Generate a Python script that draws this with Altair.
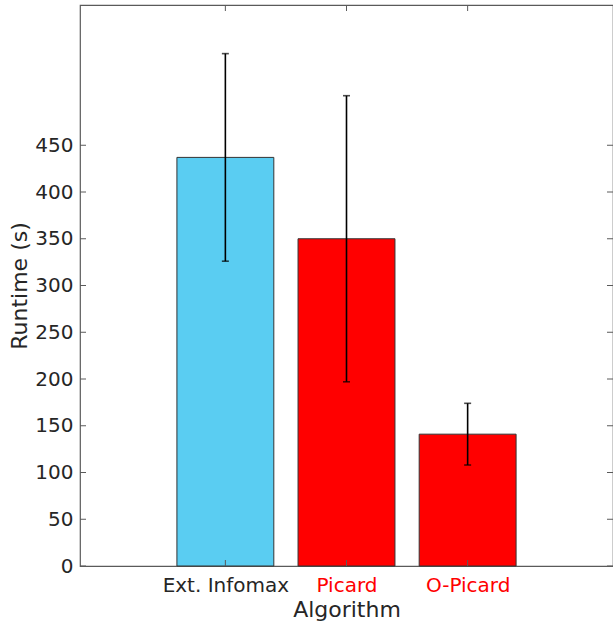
import json

import altair as alt
import pandas as pd

# Mean runtime per algorithm with its error-bar half width (seconds)
algorithms = ["Ext. Infomax", "Picard", "O-Picard"]
runtime_mean = [437, 350, 141]
runtime_err = [111, 153, 33]
bar_colors = ["#5ACDF2", "#FF0000", "#FF0000"]
label_colors = ["#262626", "#FF0000", "#FF0000"]
y_ticks = [0, 50, 100, 150, 200, 250, 300, 350, 400, 450]

W, H = 533, 561
FONT = "DejaVu Sans"
TEXT = "#262626"
FRAME = "#5a5a5a"

df = pd.DataFrame({
    "algorithm": algorithms,
    "pos": list(range(1, len(algorithms) + 1)),
    "mean": runtime_mean,
    "err": runtime_err,
    "color": bar_colors,
})
ticks_df = pd.DataFrame({"v": y_ticks})

xs = alt.Scale(domain=[-0.2, 4.2], nice=False, zero=False)
ys = alt.Scale(domain=[0, 600], nice=False)

x_axis = alt.Axis(
    values=df["pos"].tolist(),
    labelExpr=json.dumps(algorithms) + "[datum.value - 1]",
    labelColor={
        "condition": {"test": "datum.value == 1", "value": label_colors[0]},
        "value": label_colors[1],
    },
    ticks=False, domain=False, grid=False,
    labelFont=FONT, labelFontSize=20, labelPadding=9,
    labelOverlap=False, labelFlush=False,
    title="Algorithm", titleFont=FONT, titleFontSize=22,
    titleFontWeight="normal", titleColor=TEXT,
    titleY=50, titleBaseline="alphabetic",
)
y_axis = alt.Axis(
    values=y_ticks,
    ticks=False, domain=False, grid=False,
    labelFont=FONT, labelFontSize=20, labelColor=TEXT, labelPadding=7,
    title="Runtime (s)", titleFont=FONT, titleFontSize=22,
    titleFontWeight="normal", titleColor=TEXT,
    titleX=-61, titleY=H / 2, titleBaseline="middle",
)

base = alt.Chart(df).transform_calculate(
    x0="datum.pos - 0.4",
    x1="datum.pos + 0.4",
    lo="datum.mean - datum.err",
    hi="datum.mean + datum.err",
)

bars = base.mark_bar(stroke="#333333", strokeWidth=1).encode(
    x=alt.X("x0:Q", scale=xs, axis=x_axis),
    x2="x1:Q",
    y=alt.Y("mean:Q", scale=ys, axis=y_axis),
    y2=alt.datum(0),
    color=alt.Color("color:N", scale=None),
)

err_line = base.mark_rule(color="black", strokeWidth=1.6).encode(
    x=alt.X("pos:Q", scale=xs),
    y=alt.Y("lo:Q", scale=ys),
    y2="hi:Q",
)
cap_hi = base.mark_tick(orient="horizontal", color="black", size=7, thickness=1.6).encode(
    x=alt.X("pos:Q", scale=xs),
    y=alt.Y("hi:Q", scale=ys),
)
cap_lo = base.mark_tick(orient="horizontal", color="black", size=7, thickness=1.6).encode(
    x=alt.X("pos:Q", scale=xs),
    y=alt.Y("lo:Q", scale=ys),
)

# Inward tick marks on all four sides of the box
tick_left = alt.Chart(ticks_df).mark_rule(color=FRAME, strokeWidth=1).encode(
    y=alt.Y("v:Q", scale=ys), x=alt.value(0), x2=alt.value(6)
)
tick_right = alt.Chart(ticks_df).mark_rule(color=FRAME, strokeWidth=1).encode(
    y=alt.Y("v:Q", scale=ys), x=alt.value(W - 6), x2=alt.value(W)
)
tick_bottom = alt.Chart(df).mark_rule(color=FRAME, strokeWidth=1).encode(
    x=alt.X("pos:Q", scale=xs), y=alt.value(H - 6), y2=alt.value(H)
)
tick_top = alt.Chart(df).mark_rule(color=FRAME, strokeWidth=1).encode(
    x=alt.X("pos:Q", scale=xs), y=alt.value(0), y2=alt.value(6)
)

chart = (
    alt.layer(bars, err_line, cap_hi, cap_lo, tick_left, tick_right, tick_bottom, tick_top)
    .properties(
        width=W,
        height=H,
        autosize=alt.AutoSizeParams(type="none"),
        padding={"left": 80, "top": 5, "right": 0, "bottom": 58},
        background="white",
    )
    .configure_view(stroke=FRAME, strokeWidth=1.2)
)

chart.save("out.html", embed_options={"renderer": "svg", "actions": False})
